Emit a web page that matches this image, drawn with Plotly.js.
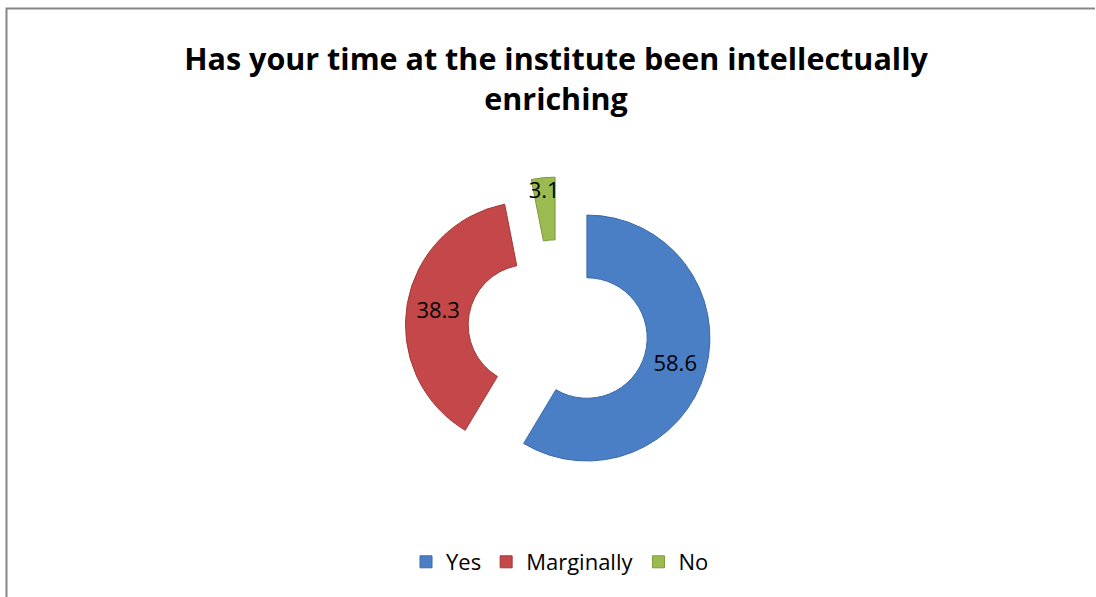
<!DOCTYPE html>
<html>
<head>
<meta charset="utf-8">
<script src="https://cdn.plot.ly/plotly-3.0.1.min.js"></script>
<style>
  html, body { margin: 0; padding: 0; background: #ffffff; }
  #chart { width: 1096px; height: 597px; }
</style>
</head>
<body>
<div id="chart"></div>
<script>
// Data
const categories = ["Yes", "Marginally", "No"];
const values = [58.6, 38.3, 3.1];
const sliceColors = ["#4A7FC6", "#C4484A", "#9BBB50"];
const sliceEdges = ["#3A6AA8", "#A23836", "#7D9A3C"];
const chartTitle = "Has your time at the institute been intellectually<br>enriching";

const W = 1096, H = 597;
const px = x => x / W;
const py = y => 1 - y / H;

const FONT = "'Open Sans', Carlito, Calibri, 'Liberation Sans', sans-serif";

const trace = {
  type: "pie",
  labels: categories,
  values: values,
  sort: false,
  direction: "clockwise",
  rotation: 0,
  hole: 0.49,
  pull: [0.244, 0.244, 0.244],
  marker: { colors: sliceColors, line: { color: sliceEdges, width: 1 } },
  texttemplate: "%{value}",
  textposition: "inside",
  insidetextorientation: "horizontal",
  textfont: { family: FONT, size: 22, color: "#000000" },
  domain: { x: [px(405), px(711)], y: [py(483), py(177)] },
  hoverinfo: "label+value"
};

const layout = {
  width: W,
  height: H,
  margin: { l: 0, r: 0, t: 0, b: 0 },
  paper_bgcolor: "#ffffff",
  plot_bgcolor: "#ffffff",
  font: { family: FONT, color: "#000000" },
  uniformtext: { mode: "show", minsize: 22 },
  title: {
    text: chartTitle,
    font: { family: FONT, size: 30.5, color: "#000000", weight: "bold" },
    x: px(556), xanchor: "center",
    y: 1 - 70 / H, yanchor: "middle",
    yref: "container", xref: "container"
  },
  showlegend: true,
  legend: {
    orientation: "h",
    x: px(560), xanchor: "center",
    y: py(562), yanchor: "middle",
    font: { family: FONT, size: 22, color: "#000000" },
    itemwidth: 30,
    traceorder: "normal"
  },
  shapes: [
    {
      type: "path",
      xref: "paper", yref: "paper",
      path: `M ${px(6.5)} ${py(600)} L ${px(6.5)} ${py(8.5)} L ${px(1095)} ${py(8.5)}`,
      line: { color: "#878787", width: 2 }
    }
  ]
};

Plotly.newPlot("chart", [trace], layout, { displayModeBar: false, staticPlot: true });
</script>
</body>
</html>
